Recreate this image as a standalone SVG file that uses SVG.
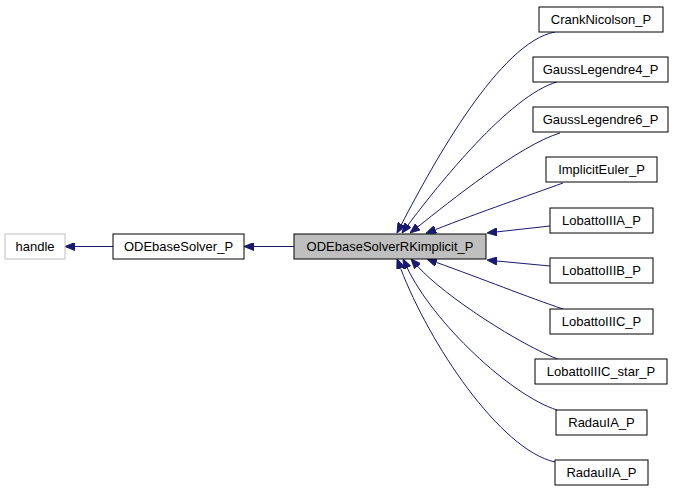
<svg xmlns="http://www.w3.org/2000/svg" width="675" height="493" viewBox="0 0 675 493">
<style>
.n rect{fill:#ffffff;stroke:#000000;stroke-width:1}
.n text{font-family:"Liberation Sans",Arial,Helvetica,sans-serif;font-size:13px;text-anchor:middle;fill:#000000}
#n_handle rect{stroke:#bfbfbf}
#n_rk rect{fill:#bfbfbf}
.e path{fill:none;stroke:#191970;stroke-width:1;marker-end:url(#ah)}
</style>
<defs>
<marker id="ah" viewBox="0 0 10 8" refX="0" refY="4" markerWidth="10" markerHeight="8" markerUnits="userSpaceOnUse" orient="auto">
<path d="M0,0 L10,4 L0,8 z" fill="#191970" stroke="#191970" stroke-width="1"/>
</marker>
</defs>
<rect width="675" height="493" fill="#ffffff"/>
<g class="e" id="edges">
<path d="M113,246.5 L75,246.5"/>
<path d="M294,246.5 L254,246.5"/>
<path d="M555,32 C500,42 434,162 401.6,224.1"/>
<path d="M557,82 C510,95 438,185 408,225"/>
<path d="M560,133 C520,145 449,202 417.9,226.8"/>
<path d="M563,183 C530,195 480,212 435.4,229.6"/>
<path d="M550,226 L496.9,231.9"/>
<path d="M550,266 L497,261"/>
<path d="M563,309 C530,298 480,278 436.4,262.4"/>
<path d="M560,360 C520,345 444.5,296 417.7,266.4"/>
<path d="M557,410 C510,395 433,322 407.3,268"/>
<path d="M555,462 C500,450 429,343 400.6,268.3"/>
</g>
<g class="n" id="n_handle"><rect x="5" y="234" width="60" height="25"/><text x="35" y="251">handle</text></g>
<g class="n" id="n_base"><rect x="113" y="234" width="131" height="25"/><text x="178.5" y="251">ODEbaseSolver_P</text></g>
<g class="n" id="n_rk"><rect x="294" y="234" width="192" height="25"/><text x="390" y="251">ODEbaseSolverRKimplicit_P</text></g>
<g class="n" id="n_cn"><rect x="539" y="7" width="124" height="25"/><text x="601" y="24">CrankNicolson_P</text></g>
<g class="n" id="n_gl4"><rect x="533" y="57" width="135" height="25"/><text x="600.5" y="74">GaussLegendre4_P</text></g>
<g class="n" id="n_gl6"><rect x="533" y="107" width="135" height="25"/><text x="600.5" y="124">GaussLegendre6_P</text></g>
<g class="n" id="n_ie"><rect x="546" y="157" width="111" height="25"/><text x="601.5" y="174">ImplicitEuler_P</text></g>
<g class="n" id="n_l3a"><rect x="550" y="208" width="103" height="25"/><text x="601.5" y="225">LobattoIIIA_P</text></g>
<g class="n" id="n_l3b"><rect x="550" y="258" width="103" height="25"/><text x="601.5" y="275">LobattoIIIB_P</text></g>
<g class="n" id="n_l3c"><rect x="550" y="309" width="103" height="25"/><text x="601.5" y="326">LobattoIIIC_P</text></g>
<g class="n" id="n_l3cs"><rect x="535" y="359" width="132" height="25"/><text x="601" y="376">LobattoIIIC_star_P</text></g>
<g class="n" id="n_r1a"><rect x="556" y="410" width="91" height="25"/><text x="601.5" y="427">RadauIA_P</text></g>
<g class="n" id="n_r2a"><rect x="555" y="460" width="93" height="25"/><text x="601.5" y="477">RadauIIA_P</text></g>
</svg>
